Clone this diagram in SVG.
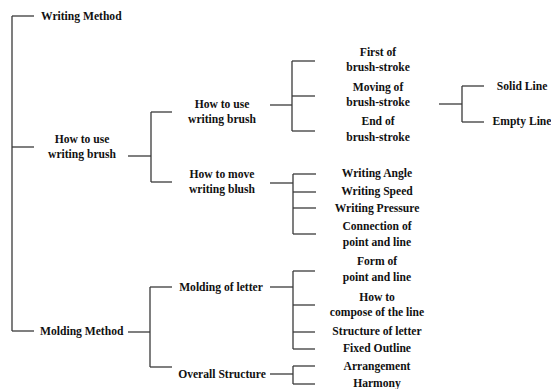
<svg xmlns="http://www.w3.org/2000/svg" width="551" height="389" viewBox="0 0 551 389">
<style>
.c line{stroke:#3a3a3a;stroke-width:1.3;fill:none}
text{font-family:"Liberation Serif","Times New Roman",serif;font-weight:bold;font-size:11.6px;fill:#111}
.m{text-anchor:middle}
</style>
<rect width="551" height="389" fill="#fff"/>
<g class="c" id="connectors">
<line x1="12" y1="16" x2="12" y2="331"/>
<line x1="12" y1="16" x2="34" y2="16"/>
<line x1="12" y1="147" x2="34" y2="147"/>
<line x1="12" y1="331" x2="34" y2="331"/>
<line x1="128" y1="156" x2="151" y2="156"/>
<line x1="151" y1="112" x2="151" y2="182"/>
<line x1="151" y1="112" x2="172" y2="112"/>
<line x1="151" y1="182" x2="172" y2="182"/>
<line x1="270" y1="105" x2="292" y2="105"/>
<line x1="292" y1="61" x2="292" y2="131"/>
<line x1="292" y1="61" x2="315" y2="61"/>
<line x1="292" y1="96" x2="315" y2="96"/>
<line x1="292" y1="131" x2="315" y2="131"/>
<line x1="439" y1="104" x2="462" y2="104"/>
<line x1="462" y1="86" x2="462" y2="122"/>
<line x1="462" y1="86" x2="484" y2="86"/>
<line x1="462" y1="122" x2="484" y2="122"/>
<line x1="270" y1="183" x2="293" y2="183"/>
<line x1="293" y1="174" x2="293" y2="234"/>
<line x1="293" y1="174" x2="316" y2="174"/>
<line x1="293" y1="192" x2="316" y2="192"/>
<line x1="293" y1="208" x2="316" y2="208"/>
<line x1="293" y1="234" x2="316" y2="234"/>
<line x1="128" y1="332" x2="150" y2="332"/>
<line x1="150" y1="287" x2="150" y2="367"/>
<line x1="150" y1="287" x2="172" y2="287"/>
<line x1="150" y1="367" x2="172" y2="367"/>
<line x1="270" y1="287" x2="293" y2="287"/>
<line x1="293" y1="271" x2="293" y2="349"/>
<line x1="293" y1="271" x2="315" y2="271"/>
<line x1="293" y1="305" x2="315" y2="305"/>
<line x1="293" y1="332" x2="315" y2="332"/>
<line x1="293" y1="349" x2="315" y2="349"/>
<line x1="270" y1="374" x2="293" y2="374"/>
<line x1="293" y1="366" x2="293" y2="384"/>
<line x1="293" y1="366" x2="315" y2="366"/>
<line x1="293" y1="384" x2="315" y2="384"/>
</g>
<g id="writing-method"><text x="41" y="20">Writing Method</text></g>
<g id="how-to-use-1"><text class="m" x="82" y="143">How to use</text><text class="m" x="82" y="158">writing brush</text></g>
<g id="molding-method"><text x="40" y="335">Molding Method</text></g>
<g id="how-to-use-2"><text class="m" x="222" y="108">How to use</text><text class="m" x="222" y="123">writing brush</text></g>
<g id="how-to-move"><text class="m" x="222" y="178">How to move</text><text class="m" x="222" y="193">writing blush</text></g>
<g id="molding-letter"><text class="m" x="221" y="291">Molding of letter</text></g>
<g id="overall-structure"><text class="m" x="222" y="378">Overall Structure</text></g>
<g id="first"><text class="m" x="378" y="56">First of</text><text class="m" x="378" y="71">brush-stroke</text></g>
<g id="moving"><text class="m" x="378" y="91">Moving of</text><text class="m" x="378" y="106">brush-stroke</text></g>
<g id="end"><text class="m" x="378" y="125">End of</text><text class="m" x="378" y="141">brush-stroke</text></g>
<g id="solid"><text class="m" x="522" y="90">Solid Line</text></g>
<g id="empty"><text class="m" x="522" y="125">Empty Line</text></g>
<g id="angle"><text class="m" x="377" y="177">Writing Angle</text></g>
<g id="speed"><text class="m" x="377" y="195">Writing Speed</text></g>
<g id="pressure"><text class="m" x="377" y="212">Writing Pressure</text></g>
<g id="connection"><text class="m" x="377" y="230">Connection of</text><text class="m" x="377" y="246">point and line</text></g>
<g id="form"><text class="m" x="377" y="265">Form of</text><text class="m" x="377" y="281">point and line</text></g>
<g id="compose"><text class="m" x="377" y="301">How to</text><text class="m" x="377" y="316">compose of the line</text></g>
<g id="structure"><text class="m" x="377" y="335">Structure of letter</text></g>
<g id="fixed"><text class="m" x="377" y="352">Fixed Outline</text></g>
<g id="arrangement"><text class="m" x="377" y="370">Arrangement</text></g>
<g id="harmony"><text class="m" x="377" y="387">Harmony</text></g>
</svg>
